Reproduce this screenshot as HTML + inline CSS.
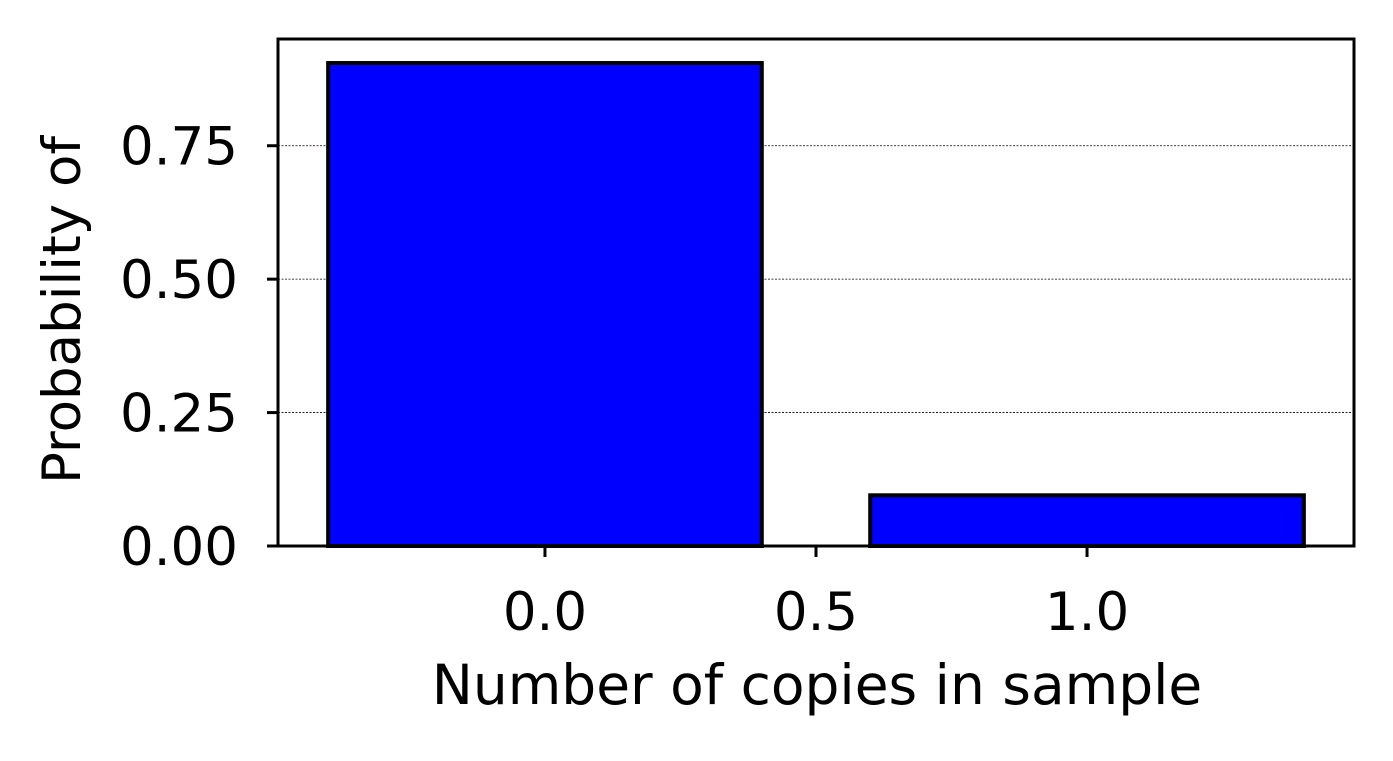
<!DOCTYPE html>
<html><head><meta charset="utf-8"><style>
html,body{margin:0;padding:0;background:#fff;}
svg text{font-family:"DejaVu Sans","Liberation Sans",sans-serif;fill:#000;}
</style></head><body>
<svg id="chart" width="1393" height="756" xmlns="http://www.w3.org/2000/svg">
<g id="grid"></g>
<g id="bars"></g>
<rect x="278" y="39" width="1076" height="507" fill="none" stroke="#000" stroke-width="3"/>
<g id="xticks"></g>
<g id="yticks"></g>
<text x="817" y="704" font-size="55" text-anchor="middle">Number of copies in sample</text>
<text transform="translate(80,310) rotate(-90)" font-size="53" text-anchor="middle">Probability of</text>
</svg>
<script>
const categories = [0, 1];
const values = [0.905, 0.095];
const xTicks = [0.0, 0.5, 1.0];
const xTickLabels = ["0.0", "0.5", "1.0"];
const yTicks = [0, 0.25, 0.5, 0.75];
const yTickLabels = ["0.00", "0.25", "0.50", "0.75"];
const barWidth = 0.8;

const L=278,R=1354,T=39,B=546;
const xMin=-0.4925,xMax=1.4925,yMin=0,yMax=0.95;
const xs=v=>L+(v-xMin)/(xMax-xMin)*(R-L);
const ys=v=>B-(v-yMin)/(yMax-yMin)*(B-T);
const NS="http://www.w3.org/2000/svg";
function mk(tag,attrs,parent){const e=document.createElementNS(NS,tag);for(const k in attrs)e.setAttribute(k,attrs[k]);parent.appendChild(e);return e;}
const grid=document.getElementById('grid');
yTicks.forEach((t,i)=>{
  if(t===0)return;
  const l=mk('line',{x1:L,x2:R,y1:ys(t),y2:ys(t),stroke:'#000','stroke-width':0.8,'stroke-dasharray':'2,1.5'},grid);
  
  
});
const bars=document.getElementById('bars');
categories.forEach((c,i)=>{
  const x0=xs(c-barWidth/2),x1=xs(c+barWidth/2);
  const r=mk('rect',{x:x0,y:ys(values[i]),width:x1-x0,height:ys(0)-ys(values[i]),fill:'#0000ff',stroke:'#000','stroke-width':4},bars);
  
  
});
const xg=document.getElementById('xticks');
xTicks.forEach((t,i)=>{
  const l=mk('line',{x1:xs(t),x2:xs(t),y1:B,y2:B+11,stroke:'#000','stroke-width':3},xg);
  
  
  const tx=mk('text',{x:xs(t),y:630,'font-size':53,'text-anchor':'middle'},xg);
  tx.textContent=xTickLabels[i];
  
  
});
const yg=document.getElementById('yticks');
yTicks.forEach((t,i)=>{
  const l=mk('line',{x1:L-11,x2:L,y1:ys(t),y2:ys(t),stroke:'#000','stroke-width':3},yg);
  
  
  const tx=mk('text',{x:238,y:ys(t)+19,'font-size':53,'text-anchor':'end'},yg);
  tx.textContent=yTickLabels[i];
  
  
});
</script>
</body></html>
